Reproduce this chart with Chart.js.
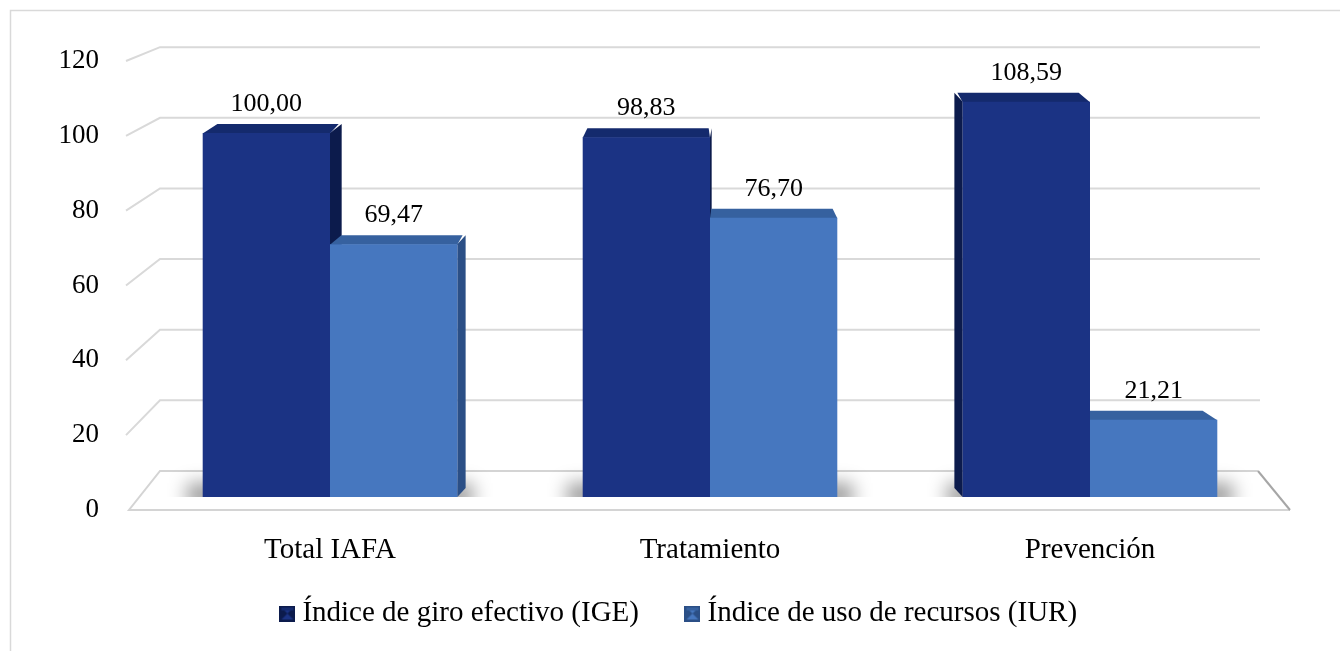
<!DOCTYPE html>
<html lang="es">
<head>
    <meta charset="UTF-8">
    <title>Índice de giro efectivo e Índice de uso de recursos</title>
    <script src="https://cdn.jsdelivr.net/npm/chart.js"></script>
    <style>
        html, body { margin: 0; padding: 0; background: #fff; }
        #grafico-container { position: relative; width: 1340px; height: 651px; }
    </style>
</head>
<body>
    <div id="grafico-container">
        <canvas id="miGrafica"></canvas>
    </div>

    <script>
        const categorias = ['Total IAFA', 'Tratamiento', 'Prevención'];
        const series = ['Índice de giro efectivo (IGE)', 'Índice de uso de recursos (IUR)'];
        const valoresIGE = [100.00, 98.83, 108.59];
        const valoresIUR = [69.47, 76.70, 21.21];
        const ticksY = [0, 20, 40, 60, 80, 100, 120];

        const fuente = "'Liberation Serif', 'Times New Roman', serif";
        const colores = [
            { frente: '#1b3384', arriba: '#142a6d', lado: '#0c1b4c' },
            { frente: '#4677bf', arriba: '#36619f', lado: '#2b4f86' }
        ];

        // icono de la leyenda con bisel
        function marcador(c) {
            const cv = document.createElement('canvas');
            cv.width = 16; cv.height = 16;
            const g = cv.getContext('2d');
            g.fillStyle = c.lado;
            g.fillRect(0, 0, 16, 16);
            g.fillStyle = c.frente;
            g.beginPath();
            g.moveTo(2, 2); g.lineTo(14, 2); g.lineTo(8, 8); g.lineTo(14, 14); g.lineTo(2, 14); g.lineTo(8, 8);
            g.closePath();
            g.fill();
            g.fillStyle = c.arriba;
            g.fillRect(2, 2, 12, 3);
            return cv;
        }
        const marcadores = colores.map(marcador);

        // perspectiva del fondo (pared y suelo)
        const profX = 32;
        const xPared = [160, 1260];
        const xSuelo = [129, 1290];
        function yFondo(area, py) {
            return area.bottom - 39 - (area.bottom - py) * 0.944;
        }

        const fondo3d = {
            id: 'fondo3d',
            beforeDatasetsDraw(chart) {
                const ctx = chart.ctx;
                const area = chart.chartArea;
                const y = chart.scales.y;
                ctx.save();

                // marco
                ctx.strokeStyle = '#d9d9d9';
                ctx.lineWidth = 1.5;
                ctx.beginPath();
                ctx.moveTo(10.5, 651); ctx.lineTo(10.5, 10.5); ctx.lineTo(1340, 10.5);
                ctx.stroke();

                // líneas de la pared
                ctx.lineWidth = 2;
                ticksY.forEach(v => {
                    if (v === 0) return;
                    const pf = y.getPixelForValue(v);
                    const pb = yFondo(area, pf);
                    ctx.beginPath();
                    ctx.moveTo(xPared[0] - profX - 2, pf);
                    ctx.lineTo(xPared[0], pb);
                    ctx.lineTo(xPared[1], pb);
                    ctx.stroke();
                });

                // suelo
                const f0 = y.getPixelForValue(0);
                const b0 = yFondo(area, f0);
                ctx.fillStyle = '#fff';
                ctx.beginPath();
                ctx.moveTo(xSuelo[0], f0);
                ctx.lineTo(xPared[0], b0);
                ctx.lineTo(xPared[1] - 2, b0);
                ctx.lineTo(xSuelo[1], f0);
                ctx.closePath();
                ctx.fill();
                ctx.strokeStyle = '#d4d4d4';
                ctx.beginPath();
                ctx.moveTo(xSuelo[1], f0);
                ctx.lineTo(xSuelo[0], f0);
                ctx.lineTo(xPared[0], b0);
                ctx.lineTo(xPared[1] - 2, b0);
                ctx.stroke();
                ctx.strokeStyle = '#a6a6a6';
                ctx.beginPath();
                ctx.moveTo(xPared[1] - 2, b0);
                ctx.lineTo(xSuelo[1], f0);
                ctx.stroke();

                // sombra bajo las barras
                const m0 = chart.getDatasetMeta(0).data;
                const m1 = chart.getDatasetMeta(1).data;
                ctx.save();
                ctx.beginPath();
                ctx.rect(0, 0, 1340, m0[0].base);
                ctx.clip();
                ctx.filter = 'blur(9px)';
                ctx.fillStyle = 'rgba(0,0,0,0.38)';
                m0.forEach((b, i) => {
                    const x1 = b.x - b.width / 2 - 16;
                    const x2 = m1[i].x + m1[i].width / 2 + 16;
                    ctx.fillRect(x1, b.base - 14, x2 - x1, 24);
                });
                ctx.restore();

                // caras superior y lateral de las barras
                const cx = (area.left + area.right) / 2;
                chart.data.datasets.forEach((ds, d) => {
                    const c = colores[d];
                    chart.getDatasetMeta(d).data.forEach(b => {
                        const x1 = b.x - b.width / 2;
                        const x2 = b.x + b.width / 2;
                        const dx = (cx - b.x) / 380 * 10;
                        const dy = -9;
                        ctx.fillStyle = c.lado;
                        const xl = dx >= 0 ? x2 : x1;
                        ctx.beginPath();
                        ctx.moveTo(xl, b.y);
                        ctx.lineTo(xl + dx, b.y + dy);
                        ctx.lineTo(xl + dx, b.base + dy);
                        ctx.lineTo(xl, b.base);
                        ctx.closePath();
                        ctx.fill();
                        ctx.fillStyle = c.arriba;
                        ctx.beginPath();
                        ctx.moveTo(x1, b.y + 0.5);
                        ctx.lineTo(x1 + dx + 3, b.y + dy);
                        ctx.lineTo(x2 + dx - 3, b.y + dy);
                        ctx.lineTo(x2, b.y + 0.5);
                        ctx.closePath();
                        ctx.fill();
                    });
                });
                ctx.restore();
            },
            afterDatasetsDraw(chart) {
                const ctx = chart.ctx;
                ctx.save();
                ctx.font = '26px ' + fuente;
                ctx.fillStyle = '#000';
                ctx.textAlign = 'center';
                ctx.textBaseline = 'middle';
                chart.data.datasets.forEach((ds, d) => {
                    chart.getDatasetMeta(d).data.forEach((b, i) => {
                        const txt = ds.data[i].toFixed(2).replace('.', ',');
                        ctx.fillText(txt, b.x, b.y - 29);
                    });
                });
                ctx.restore();
            }
        };

        const ctx = document.getElementById('miGrafica').getContext('2d');
        const miGrafica = new Chart(ctx, {
            type: 'bar',
            data: {
                labels: categorias,
                datasets: [
                    {
                        label: series[0],
                        data: valoresIGE,
                        backgroundColor: colores[0].frente,
                        yAxisID: 'yBarras'
                    },
                    {
                        label: series[1],
                        data: valoresIUR,
                        backgroundColor: colores[1].frente,
                        yAxisID: 'yBarras'
                    }
                ]
            },
            options: {
                responsive: true,
                maintainAspectRatio: false,
                animation: false,
                categoryPercentage: 0.67,
                barPercentage: 1.0,
                layout: { padding: { top: 61, right: 0, bottom: 13, left: 24 } },
                scales: {
                    x: {
                        grid: { display: false, drawTicks: false },
                        border: { display: false },
                        ticks: { color: '#000', mirror: true, padding: -58, font: { family: fuente, size: 29 } },
                        afterFit(scale) { scale.height = 36; }
                    },
                    y: {
                        min: 0,
                        max: 120,
                        afterBuildTicks(scale) { scale.ticks = ticksY.map(v => ({ value: v })); },
                        grid: { display: false, drawTicks: false },
                        border: { display: false },
                        ticks: { color: '#000', padding: 41, font: { family: fuente, size: 27 } },
                        afterFit(scale) { scale.width = 116; }
                    },
                    // eje oculto de las barras (más atrás que el borde del suelo)
                    yBarras: {
                        position: 'right',
                        min: -3.57,
                        max: 119.78,
                        grid: { display: false, drawTicks: false },
                        border: { display: false },
                        ticks: { display: false },
                        afterFit(scale) { scale.width = 60; }
                    }
                },
                plugins: {
                    legend: {
                        display: true,
                        position: 'bottom',
                        labels: {
                            color: '#000',
                            font: { family: fuente, size: 29 },
                            usePointStyle: true,
                            boxWidth: 1,
                            padding: 53,
                            generateLabels(chart) {
                                const items = Chart.defaults.plugins.legend.labels.generateLabels(chart);
                                items.forEach((it, i) => { it.pointStyle = marcadores[i]; });
                                return items;
                            }
                        }
                    },
                    tooltip: { enabled: false }
                }
            },
            plugins: [fondo3d]
        });
    </script>
</body>
</html>
